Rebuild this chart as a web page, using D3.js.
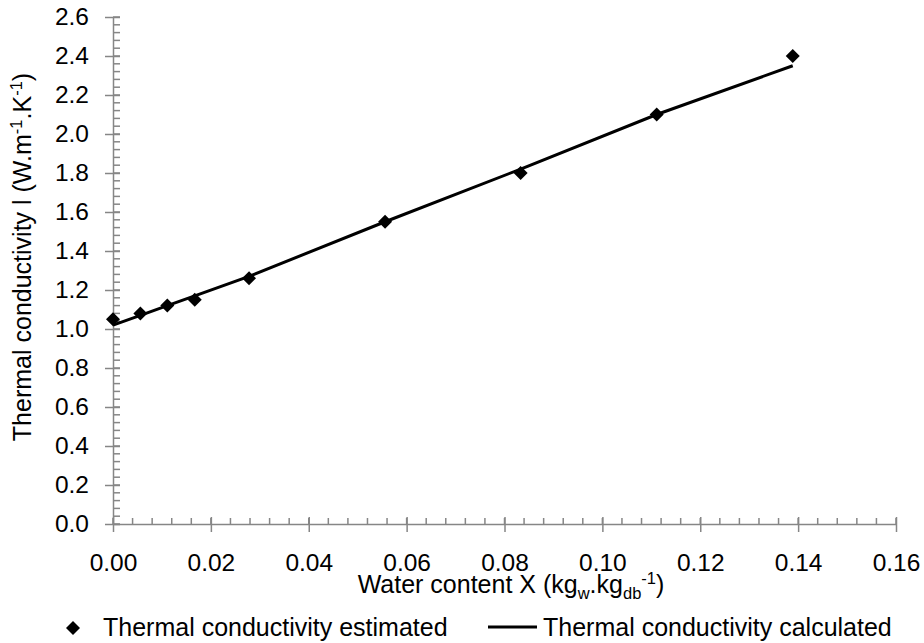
<!DOCTYPE html>
<html lang="en">
<head>
<meta charset="utf-8">
<title>Thermal conductivity</title>
<script src="https://d3js.org/d3.v7.min.js"></script>
<style>
  body { margin: 0; background: #fff; }
  svg text { font-family: "Liberation Sans", Arial, sans-serif; fill: #000; }
</style>
</head>
<body>
<div id="chart"></div>
<script>
// data
var waterContent = [0.0, 0.0056, 0.0111, 0.0167, 0.0278, 0.0556, 0.0833, 0.1111, 0.1389];
var estimated    = [1.05, 1.08, 1.12, 1.15, 1.26, 1.55, 1.80, 2.10, 2.40];
var calculated   = [1.02, 1.07, 1.12, 1.17, 1.27, 1.55, 1.82, 2.10, 2.35];
var xTicks = [0, 0.02, 0.04, 0.06, 0.08, 0.10, 0.12, 0.14, 0.16];
var yTicks = [0, 0.2, 0.4, 0.6, 0.8, 1.0, 1.2, 1.4, 1.6, 1.8, 2.0, 2.2, 2.4, 2.6];
var legendLabels = ["Thermal conductivity estimated", "Thermal conductivity calculated"];

var svgWidth = 924, svgHeight = 643,
    margin = {top: 17, right: 28, bottom: 119, left: 113},
    width = svgWidth - margin.left - margin.right,
    height = svgHeight - margin.top - margin.bottom,
    axisColor = "#868686",
    fontSize = 25,
    tickSize = 24.5,
    subSize = 16.5;

var svg = d3.select("#chart").append("svg")
    .attr("width", svgWidth)
    .attr("height", svgHeight);

var g = svg.append("g")
    .attr("transform", "translate(" + margin.left + "," + margin.top + ")");

var x = d3.scaleLinear().domain([0, 0.16]).range([0, width]);
var y = d3.scaleLinear().domain([0, 2.6]).range([height, 0]);

// minor ticks first so the axis lines sit on top
var xMinor = d3.range(0, 0.1601, 0.004);
var yMinor = d3.range(0, 2.601, 0.04);

g.append("g").selectAll("line")
    .data(yMinor)
    .enter().append("line")
    .attr("x1", 0).attr("x2", 7)
    .attr("y1", function(d) { return y(d); })
    .attr("y2", function(d) { return y(d); })
    .attr("stroke", axisColor).attr("stroke-width", 1.5);

g.append("g").selectAll("line")
    .data(xMinor)
    .enter().append("line")
    .attr("x1", function(d) { return x(d); })
    .attr("x2", function(d) { return x(d); })
    .attr("y1", height).attr("y2", height - 6)
    .attr("stroke", axisColor).attr("stroke-width", 1.5);

// y axis
var yAxis = g.append("g")
    .call(d3.axisLeft(y).tickValues(yTicks).tickSizeInner(8).tickSizeOuter(0)
        .tickPadding(16).tickFormat(d3.format(".1f")));
yAxis.selectAll(".tick line").attr("x2", 7).attr("x1", -8);

// x axis
var xAxis = g.append("g")
    .attr("transform", "translate(0," + height + ")")
    .call(d3.axisBottom(x).tickValues(xTicks).tickSizeInner(8).tickSizeOuter(0)
        .tickPadding(22).tickFormat(d3.format(".2f")));
xAxis.selectAll(".tick line").attr("y1", -7).attr("y2", 8);

[yAxis, xAxis].forEach(function(a) {
    a.select(".domain").attr("stroke", axisColor).attr("stroke-width", 1.5);
    a.selectAll(".tick line").attr("stroke", axisColor).attr("stroke-width", 1.5);
    a.selectAll(".tick text").attr("font-size", tickSize).attr("fill", "#000")
        .style("font-family", "'Liberation Sans', Arial, sans-serif");
});

// calculated line
var line = d3.line()
    .x(function(d, i) { return x(waterContent[i]); })
    .y(function(d) { return y(d); });

g.append("path")
    .datum(calculated)
    .attr("d", line)
    .attr("fill", "none")
    .attr("stroke", "#000")
    .attr("stroke-width", 3);

// estimated points
var diamond = "M0,-7L7,0L0,7L-7,0Z";
g.append("g").selectAll("path")
    .data(estimated)
    .enter().append("path")
    .attr("d", diamond)
    .attr("fill", "#000")
    .attr("transform", function(d, i) {
        return "translate(" + x(waterContent[i]) + "," + y(d) + ")";
    });

// axis titles
var xTitle = svg.append("text")
    .attr("x", 511).attr("y", 593)
    .attr("text-anchor", "middle")
    .attr("font-size", fontSize);
xTitle.append("tspan").text("Water content X (kg");
xTitle.append("tspan").attr("dy", 6).attr("font-size", subSize).text("w");
xTitle.append("tspan").attr("dy", -6).text(".kg");
xTitle.append("tspan").attr("dy", 6).attr("font-size", subSize).text("db");
xTitle.append("tspan").attr("dy", -15).attr("font-size", subSize).text("-1");
xTitle.append("tspan").attr("dy", 9).text(")");

var yTitle = svg.append("text")
    .attr("transform", "translate(31,257) rotate(-90)")
    .attr("text-anchor", "middle")
    .attr("font-size", fontSize);
yTitle.append("tspan").text("Thermal conductivity l (W.m");
yTitle.append("tspan").attr("dy", -9).attr("font-size", subSize).text("-1");
yTitle.append("tspan").attr("dy", 9).text(".K");
yTitle.append("tspan").attr("dy", -9).attr("font-size", subSize).text("-1");
yTitle.append("tspan").attr("dy", 9).text(")");

// legend
var legend = svg.append("g");
legend.append("path")
    .attr("d", diamond)
    .attr("fill", "#000")
    .attr("transform", "translate(73,628)");
legend.append("text")
    .attr("x", 103).attr("y", 636)
    .attr("font-size", fontSize)
    .text(legendLabels[0]);
legend.append("line")
    .attr("x1", 488).attr("x2", 537)
    .attr("y1", 627).attr("y2", 627)
    .attr("stroke", "#000").attr("stroke-width", 3);
legend.append("text")
    .attr("x", 543).attr("y", 636)
    .attr("font-size", fontSize)
    .text(legendLabels[1]);
</script>
</body>
</html>
